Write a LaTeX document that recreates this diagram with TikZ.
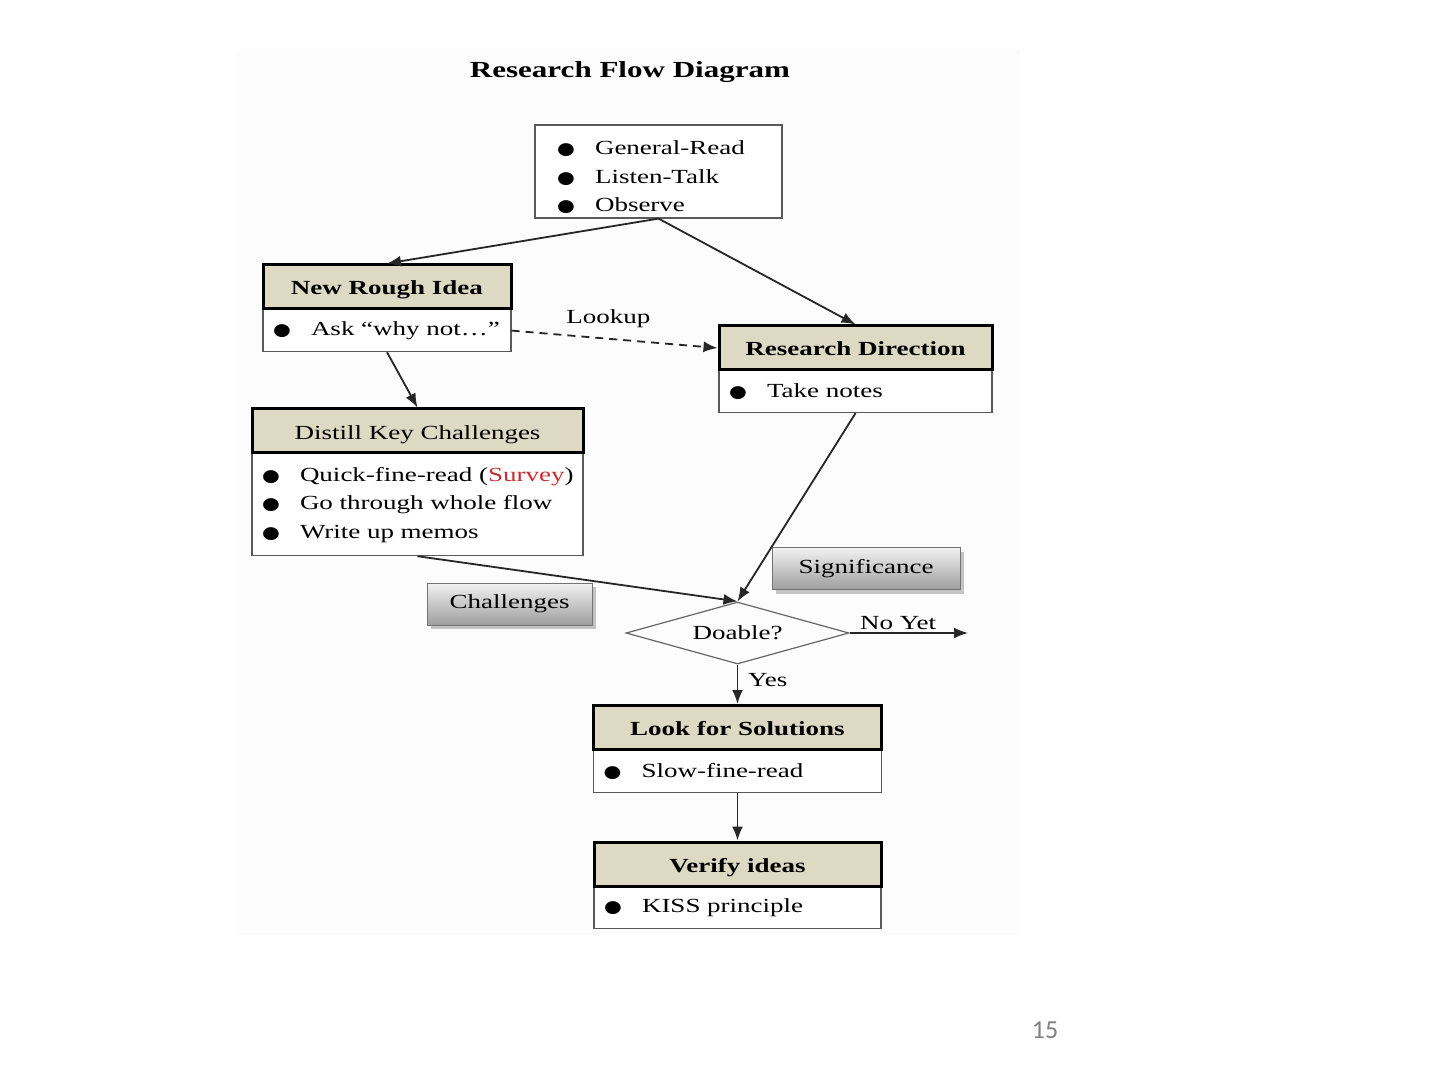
\documentclass[tikz,border=0pt]{standalone}
\usepackage{fontspec}
\setmainfont[FakeStretch=1.35]{Liberation Serif}
\newfontfamily\bulletfont[FakeStretch=1.2]{DejaVu Sans}
\newfontfamily\slidefont{Carlito}
\usetikzlibrary{shapes.geometric,arrows.meta,shadows}
\definecolor{headtan}{RGB}{221,217,195}
\definecolor{surveyred}{RGB}{200,45,45}
\newcommand{\blt}{\makebox[19pt][l]{\bulletfont\fontsize{8.5}{8.5}\selectfont ●}}

\begin{document}
\begin{tikzpicture}[x=0.5pt,y=-0.5pt,
  every node/.style={font=\fontsize{10}{14.25}\selectfont},
  head/.style={draw=black,line width=1.5pt,fill=headtan,minimum height=22pt,inner sep=0pt,text height=9pt,text depth=1pt,font=\fontsize{10}{12}\selectfont\bfseries},
  body/.style={draw=black!65,line width=0.6pt,fill=white,anchor=north,inner xsep=5pt,inner ysep=0pt,align=left},
  tag/.style={draw=black!55,top color=black!5,bottom color=black!38,drop shadow={shadow xshift=2pt,shadow yshift=-2pt,opacity=0.45},minimum height=21pt},
  link/.style={draw=black!85,line width=0.9pt,-{Latex[length=7pt,width=5.5pt]}}]
\useasboundingbox (0,0) rectangle (1440,1080);
\fill[black!1.2] (237,50) rectangle (1020,935);

\node[font=\fontsize{11.5}{14}\selectfont\bfseries] (title) at (630,72) {Research Flow Diagram};

\node[body,anchor=center,inner xsep=11pt,text width=101.5pt,minimum height=46.5pt] (src) at (658.5,171.5) {\rule{0pt}{13pt}\blt General-Read\\ \blt Listen-Talk\\ \blt Observe};

\node[body,text width=114pt,minimum height=21pt] (ideab) at (387,309) {\blt Ask “why not…”};
\node[head,minimum width=124pt] (idea) at (387,287) {New Rough Idea};

\node[body,text width=126.5pt,minimum height=21pt] (dirb) at (855.5,370) {\blt Take notes};
\node[head,minimum width=136.5pt] (dir) at (855.5,348) {Research Direction};

\node[body,text width=155.5pt,minimum height=51pt] (keyb) at (417.5,453) {\mbox{\blt Quick-fine-read (\textcolor{surveyred}{Survey})}\\ \blt Go through whole flow\\ \blt Write up memos};
\node[head,minimum width=165.5pt,font=\fontsize{10}{12}\selectfont] (key) at (417.5,431) {Distill Key Challenges};

\node[tag,minimum width=82.5pt] (chal) at (509.5,604) {Challenges};
\node[tag,minimum width=94pt] (sig) at (866,568.5) {Significance};

\node[draw=black!60,line width=0.6pt,diamond,aspect=3.6,minimum width=111.5pt,minimum height=31pt,inner sep=0pt] (doable) at (737.5,633) {Doable?};
\coordinate (noyet) at (968,633);

\node[body,text width=134pt,minimum height=21.5pt] (solb) at (737.5,749) {\blt Slow-fine-read};
\node[head,minimum width=144pt] (sol) at (737.5,727.5) {Look for Solutions};

\node[body,text width=133.5pt,minimum height=21pt] (verb) at (737.5,886) {\blt KISS principle};
\node[head,minimum width=143.5pt] (ver) at (737.5,864) {Verify ideas};

\draw[link] (src.south) -- (idea.north);
\draw[link] (src.south) -- (dir.north);
\draw[link] (ideab.south) -- (key.north);
\draw[link,dash pattern=on 4pt off 3pt] (ideab.east) -- node[above=1.5pt,pos=0.47]{Lookup} (dir.west);
\draw[link] (dirb.south) -- (doable.north);
\draw[link] (keyb.south) -- (doable.north);
\draw[link] (doable.east) -- node[above=-2pt,pos=0.41]{No Yet} (noyet);
\draw[link] (doable.south) -- node[right=1.5pt,pos=0.4]{Yes} (sol.north);
\draw[link] (solb.south) -- (ver.north);

\node[font=\slidefont\fontsize{13}{15}\selectfont,text=black!50] (page) at (1045,1030) {15};
\end{tikzpicture}
\end{document}
